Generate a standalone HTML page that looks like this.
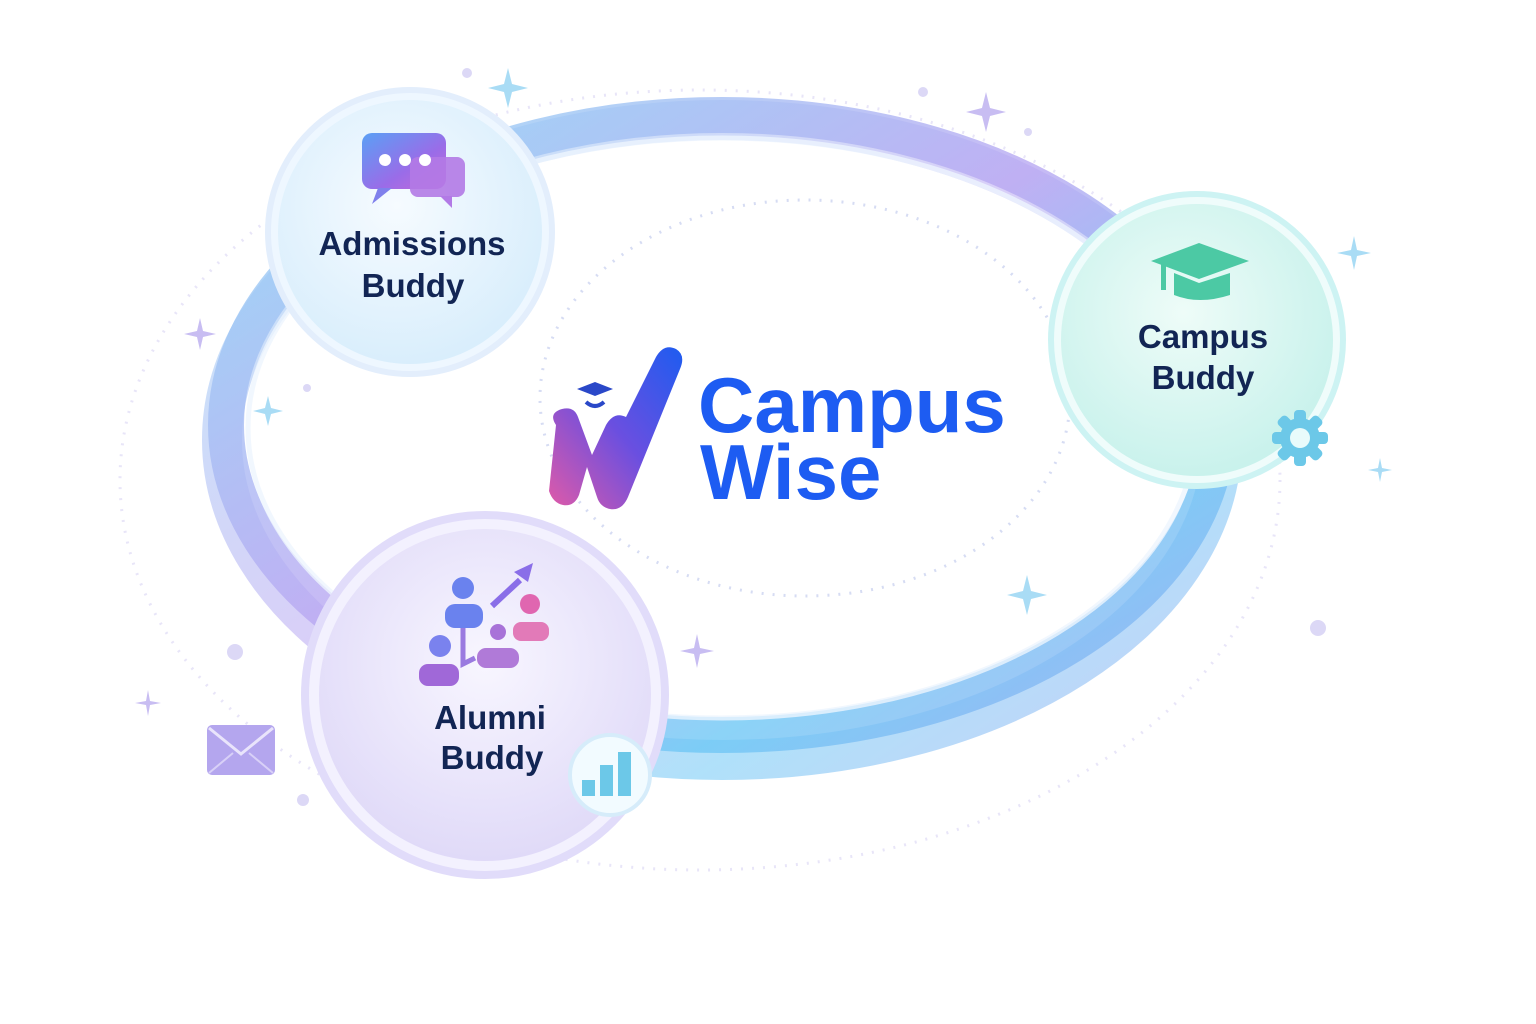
<!DOCTYPE html>
<html><head><meta charset="utf-8"><style>
html,body{margin:0;padding:0;background:#fff;width:1536px;height:1024px;overflow:hidden}
svg{display:block}
text{font-family:"Liberation Sans",sans-serif}
</style></head><body>
<svg width="1536" height="1024" viewBox="0 0 1536 1024" xmlns="http://www.w3.org/2000/svg">
<defs>
<linearGradient id="ring" x1="0" y1="0" x2="1" y2="1">
<stop offset="0" stop-color="#8fd8f6"/><stop offset="0.45" stop-color="#b9a8f2"/><stop offset="0.75" stop-color="#6fc8f5"/><stop offset="1" stop-color="#9aa8f2"/>
</linearGradient>
<radialGradient id="adm" cx="0.45" cy="0.4" r="0.6"><stop offset="0" stop-color="#f6fbff"/><stop offset="1" stop-color="#d9eefc"/></radialGradient>
<radialGradient id="cam" cx="0.45" cy="0.4" r="0.6"><stop offset="0" stop-color="#eefcf8"/><stop offset="1" stop-color="#c9f2ec"/></radialGradient>
<radialGradient id="alu" cx="0.5" cy="0.4" r="0.6"><stop offset="0" stop-color="#f8f6ff"/><stop offset="1" stop-color="#e0daf8"/></radialGradient>
<linearGradient id="w" x1="0" y1="1" x2="1" y2="0"><stop offset="0" stop-color="#e05aa8"/><stop offset="0.5" stop-color="#6a4fe0"/><stop offset="1" stop-color="#1e5cf0"/></linearGradient>
<linearGradient id="chat" x1="0" y1="0" x2="1" y2="1"><stop offset="0" stop-color="#5aa0f5"/><stop offset="0.6" stop-color="#9a6ce8"/><stop offset="1" stop-color="#c66ad8"/></linearGradient>
</defs>

<ellipse cx="700" cy="480" rx="580" ry="390" fill="none" stroke="#d8d4f4" stroke-width="3" stroke-dasharray="2 9" opacity="0.6"/>
<ellipse cx="805" cy="398" rx="265" ry="198" fill="none" stroke="#d6dcf3" stroke-width="3" stroke-dasharray="2 9"/>

<!-- main ring -->
<ellipse cx="722" cy="440" rx="500" ry="320" fill="none" stroke="url(#ring)" stroke-width="40" opacity="0.55"/>
<ellipse cx="722" cy="425" rx="496" ry="310" fill="none" stroke="url(#ring)" stroke-width="36" opacity="0.8"/>
<ellipse cx="722" cy="428" rx="474" ry="290" fill="none" stroke="#eef5fe" stroke-width="5" opacity="0.8"/>

<g fill="#a9dcf5">
<path d="M508 68 l4 16 16 4 -16 4 -4 16 -4 -16 -16 -4 16 -4z"/>
<path d="M1354 236 l3 14 14 3 -14 3 -3 14 -3 -14 -14 -3 14 -3z"/>
<path d="M268 396 l3 12 12 3 -12 3 -3 12 -3 -12 -12 -3 12 -3z"/>
<path d="M1027 575 l4 16 16 4 -16 4 -4 16 -4 -16 -16 -4 16 -4z"/>
<path d="M1380 458 l2 10 10 2 -10 2 -2 10 -2 -10 -10 -2 10 -2z"/>
</g>
<g fill="#c8bdf2">
<path d="M986 92 l4 16 16 4 -16 4 -4 16 -4 -16 -16 -4 16 -4z"/>
<path d="M200 318 l3 13 13 3 -13 3 -3 13 -3 -13 -13 -3 13 -3z"/>
<path d="M697 634 l3 14 14 3 -14 3 -3 14 -3 -14 -14 -3 14 -3z"/>
<path d="M148 690 l2 11 11 2 -11 2 -2 11 -2 -11 -11 -2 11 -2z"/>
</g>
<g fill="#dcd8f6"><circle cx="467" cy="73" r="5"/><circle cx="923" cy="92" r="5"/><circle cx="1028" cy="132" r="4"/><circle cx="235" cy="652" r="8"/><circle cx="1318" cy="628" r="8"/><circle cx="303" cy="800" r="6"/><circle cx="307" cy="388" r="4"/></g>

<!-- Admissions node -->
<circle cx="410" cy="232" r="142" fill="#eef7ff" stroke="#e3eefc" stroke-width="6"/>
<circle cx="410" cy="232" r="132" fill="url(#adm)"/>
<rect x="362" y="133" width="84" height="56" rx="10" fill="url(#chat)"/>
<path d="M378 188 l-6 16 20 -16z" fill="#7f80ec"/>
<rect x="410" y="157" width="55" height="40" rx="8" fill="#b27ae6" opacity="0.9"/>
<path d="M440 196 l12 12 0 -12z" fill="#b27ae6"/>
<circle cx="385" cy="160" r="6" fill="#fff"/><circle cx="405" cy="160" r="6" fill="#fff"/><circle cx="425" cy="160" r="6" fill="#fff"/>
<text x="412" y="255" text-anchor="middle" font-size="33" font-weight="bold" fill="#122554">Admissions</text>
<text x="413" y="297" text-anchor="middle" font-size="33" font-weight="bold" fill="#122554">Buddy</text>

<!-- Campus Buddy node -->
<circle cx="1197" cy="340" r="146" fill="#effcfb" stroke="#cdf3f3" stroke-width="6"/>
<circle cx="1197" cy="340" r="136" fill="url(#cam)"/>
<path d="M1151 261 l48 -18 50 18 -50 18z" fill="#4cc9a4"/>
<path d="M1174 273 v22 q25 10 56 0 v-22 l-31 10z" fill="#4cc9a4"/>
<rect x="1161" y="264" width="5" height="26" fill="#4cc9a4"/>
<text x="1203" y="348" text-anchor="middle" font-size="33" font-weight="bold" fill="#122554">Campus</text>
<text x="1203" y="389" text-anchor="middle" font-size="33" font-weight="bold" fill="#122554">Buddy</text>
<g transform="translate(1300,438)" fill="#6cc8e8">
<circle r="20"/>
<g><rect x="-6" y="-28" width="12" height="56" rx="4"/><rect x="-28" y="-6" width="56" height="12" rx="4"/>
<rect x="-6" y="-28" width="12" height="56" rx="4" transform="rotate(45)"/><rect x="-6" y="-28" width="12" height="56" rx="4" transform="rotate(-45)"/></g>
<circle r="10" fill="#e8fbfb"/>
</g>

<!-- Alumni node -->
<circle cx="485" cy="695" r="180" fill="#f3f1fe" stroke="#e1dcfa" stroke-width="8"/>
<circle cx="485" cy="695" r="166" fill="url(#alu)"/>
<circle cx="463" cy="588" r="11" fill="#6a82ee"/>
<rect x="445" y="604" width="38" height="24" rx="10" fill="#6a82ee"/>
<circle cx="440" cy="646" r="11" fill="#7a82ee"/>
<rect x="419" y="664" width="40" height="22" rx="9" fill="#a068d8"/>
<circle cx="498" cy="632" r="8" fill="#a872d8"/>
<rect x="477" y="648" width="42" height="20" rx="9" fill="#b07ad8"/>
<circle cx="530" cy="604" r="10" fill="#e066b0"/>
<rect x="513" y="622" width="36" height="19" rx="8" fill="#e27ab8"/>
<path d="M463 628 v36 l12 -6" stroke="#9a7ae0" stroke-width="5" fill="none"/>
<path d="M492 606 l28 -26" stroke="#8a6ee8" stroke-width="6"/>
<path d="M514 572 l19 -9 -5 19z" fill="#8a6ee8"/>
<text x="490" y="729" text-anchor="middle" font-size="33" font-weight="bold" fill="#122554">Alumni</text>
<text x="492" y="769" text-anchor="middle" font-size="33" font-weight="bold" fill="#122554">Buddy</text>
<circle cx="610" cy="775" r="40" fill="#f2fbff" stroke="#d6ecfa" stroke-width="4"/>
<rect x="582" y="780" width="13" height="16" fill="#6cc8e8"/>
<rect x="600" y="765" width="13" height="31" fill="#6cc8e8"/>
<rect x="618" y="752" width="13" height="44" fill="#6cc8e8"/>

<rect x="207" y="725" width="68" height="50" rx="5" fill="#b4a6ee"/>
<path d="M209 728 l32 26 32 -26" stroke="#e9e4fb" stroke-width="3" fill="none"/>
<path d="M209 773 l24 -20 M273 773 l-24 -20" stroke="#d8d0f7" stroke-width="2"/>

<!-- Logo -->
<path d="M556 425 q-8 -12 6 -16 q12 -3 16 8 l14 38 14 -30 q8 -14 20 -8 l30 -60 q8 -14 20 -8 q10 6 4 20 l-52 128 q-6 14 -18 12 q-10 -2 -13 -12 l-10 -30 -8 28 q-5 12 -16 10 q-10 -2 -14 -14z" fill="url(#w)"/>
<path d="M577 389 l18 -7 18 7 -18 7z" fill="#2a48c8"/>
<path d="M586 402 q9 8 18 0" stroke="#2a48c8" stroke-width="4" fill="none"/>
<text x="698" y="432" font-size="78" font-weight="bold" fill="#1d5cf2">Campus</text>
<text x="700" y="499" font-size="78" font-weight="bold" fill="#1d5cf2">Wise</text>
</svg>
</body></html>
